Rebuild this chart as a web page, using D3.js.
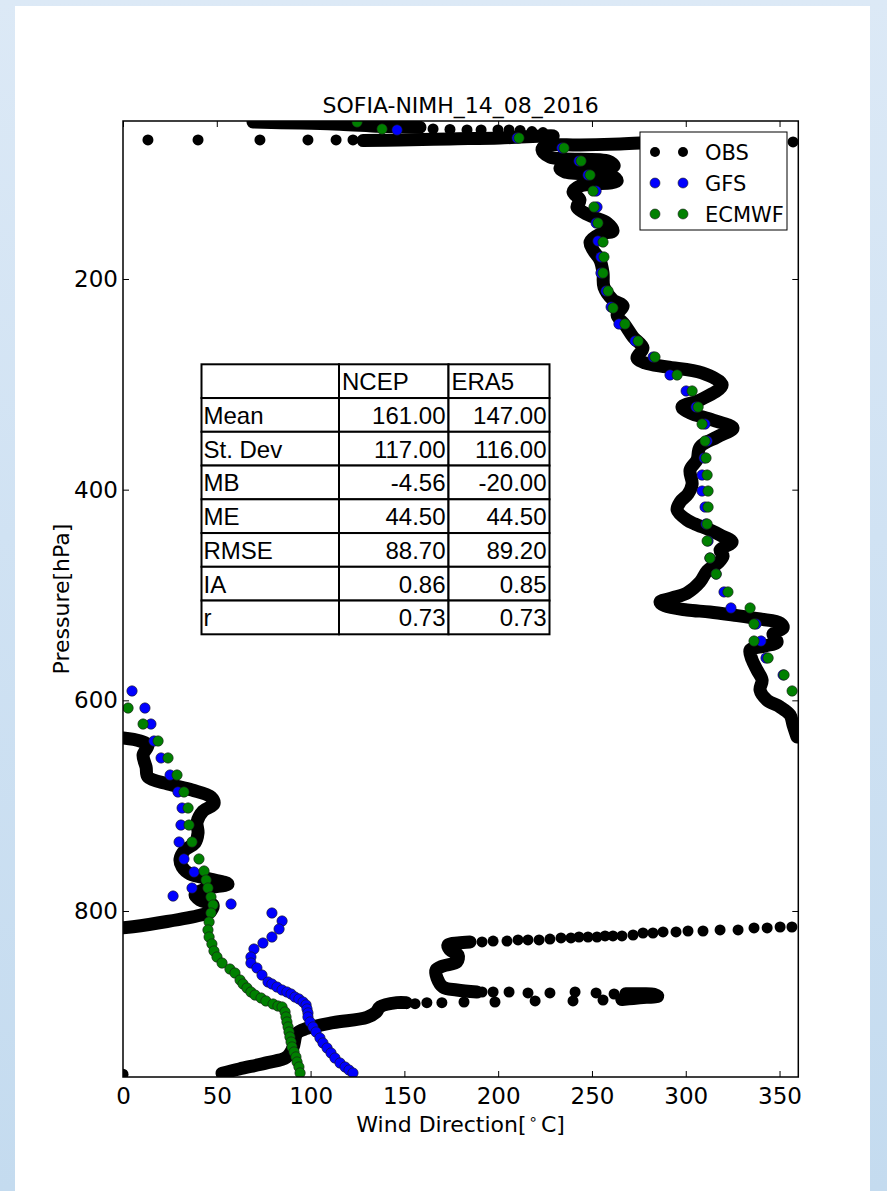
<!DOCTYPE html>
<html>
<head>
<meta charset="utf-8">
<script src="https://cdn.jsdelivr.net/npm/d3@7"></script>
<style>
html, body { margin: 0; padding: 0; }
body { width: 887px; height: 1191px; position: relative; overflow: hidden;
  background: linear-gradient(180deg, #dce9f6 0%, #d0e2f3 45%, #c4dbef 100%); }
#panel { position: absolute; left: 15px; top: 6px; width: 855px; height: 1185px; background: #fff; }
svg { position: absolute; left: 0; top: 0; }
text { font-family: "DejaVu Sans", sans-serif; fill: #000; }
</style>
</head>
<body>
<div id="panel"></div>
<svg id="chart" width="887" height="1191"></svg>
<script>
//titulos y ejes
var chartTitle = "SOFIA-NIMH_14_08_2016";
var xTicks = [0, 50, 100, 150, 200, 250, 300, 350];
var yTicks = [200, 400, 600, 800];
var seriesNames = ["OBS", "GFS", "ECMWF"];

//tabla de estadisticos
var tableCols = ["NCEP", "ERA5"];
var tableRows = ["Mean", "St. Dev", "MB", "ME", "RMSE", "IA", "r"];
var ncepStats = ["161.00", "117.00", "-4.56", "44.50", "88.70", "0.86", "0.73"];
var era5Stats = ["147.00", "116.00", "-20.00", "44.50", "89.20", "0.85", "0.73"];

//radiosondeo: tramos densos [direccion, presion]
var obsTraces = [
  [[52.8,954],[62,950],[77,944],[87,939],[90.6,930],[92.8,916],[98,911.5],[112,906],[130,901],[135,896],[137,891],[146,887],[151,887]],
  [[266,884],[272,883],[279,882],[285,881],[283,879],[276,878.5],[268,878.5]],
  [[188.7,876.9],[178,875],[170.6,872.2],[167.4,863.6],[166.9,856],[170.6,852.2],[178,848.4],[178.6,841.8],[174.3,837],[173.3,832.3],[178.6,830.4],[185,829.4]],
  [[0,816],[5.3,815],[23.5,810],[41,804],[46.4,801],[48,794.3],[41,789.6],[38.4,784.8],[43.7,779.1],[56,774.4],[46.4,769.6],[35.7,764.9],[31.5,758.2],[30.4,750.6],[33,742.1],[38.4,735.4],[40,725.9],[39.5,715.5],[42.7,705.1],[48.5,698.4],[46.9,691.8],[36.8,685.1],[24,679.4],[13.3,672.8],[12.3,663.3],[10.7,651.9],[13.3,642.4],[9.1,638.6],[0,635.8]],
  [[359.3,634.8],[357.2,623.4],[355.6,613.9],[350.3,606.3],[343.3,599.7],[339.6,590.2],[340.7,580.7],[338,571.2],[335.4,561.7],[334.3,552.2],[342.3,548.4],[348.7,544.6],[346.5,537],[351.9,531.3],[350.3,526.6],[339.6,522.8],[325.2,519],[312.9,516.1],[300.7,514.2],[289,510.4],[286.3,506.6],[292.7,502.8],[300.7,498.1],[307.6,487.7],[311.4,477.2],[317.2,469.6],[319.9,463],[318.3,457.3],[324.7,449.7],[318.3,443],[312.9,438.3],[304.9,432.6],[300.7,428.8],[295.4,419.3],[297,411.7],[301.2,404.1],[303.4,394.6],[302.3,381.3],[306,371.8],[307.6,359.5],[316.7,350],[325.2,341.5],[314.5,333.9],[302.3,327.2],[298,321.5],[307.6,314.9],[319.4,300.6],[308.7,289.2],[290,283.5],[278.3,279.7],[274,275],[277.2,265.5],[271.9,255.1],[267.6,243.7],[263.4,234.2],[266.6,225.6],[261.2,219.9],[256.4,207.6],[255.9,194.3],[254.3,182],[250.6,172.5],[249,164.9],[254.3,157.3],[261.2,154.4],[258,146.8],[250.6,141.1],[245.2,136.4],[242,131.6],[243.6,125],[239.9,117.4],[243.6,111.7],[263.4,107],[260.7,102.2],[235.6,98.4],[233,94.6],[261.8,92.7],[258.6,88],[227.6,84.2],[223.4,77.5],[225,73.7],[243.6,72.8],[265,71.8],[275.6,70.9]],
  [[128,68.5],[147.7,68],[174.3,67],[201,66.1],[229.3,64.2],[226,65.5]],
  [[158.3,56],[137,55],[115.7,53],[94.4,52],[69.3,51]]
];

//radiosondeo: puntos sueltos
var obsDots = [
  [0,955],
  [155.7,888],[162,887],[170,887],[181.8,886.4],[198.3,886.4],[219.7,885.4],[239.9,885.4],[255.9,884.5],[265.5,884.5],
  [261.8,878.8],[252.2,877.8],[241,876.9],[227.6,877.8],[215.9,877.8],[205.8,876.9],[197.3,876.9],[191.4,876.9],
  [191.4,829.4],[197.3,828.5],[204.7,828.5],[210.6,827.5],[215.9,827.5],[221.8,827.5],[227.6,826.6],[233.5,825.6],[238.8,825.6],[243.1,824.7],[247.9,824.7],[252.7,824.7],[257,823.7],[261.2,823.7],[266,823.7],[271.9,822.8],[277.2,820.9],[282.5,820.9],[287.9,819.9],[294.8,819.9],[301.2,819],[309.2,819],[318.3,818],[327.9,818],[336.4,816.1],[343.4,816.1],[350.3,815.2],[356.6,815.2],
  [290,70.5],[305,70.3],[320,70],[335,69.9],[357.2,69.9],
  [13.3,68],[40,68],[73,68],[98.6,68],[113.6,68],[122.6,68],
  [223.9,61],[218,60],[211.7,59],[205.8,58.5],[199.9,58.5],[190.9,58.5],[183.4,58.5],[174.3,58],[165.3,57.5]
];

//modelo GFS
var gfsData = [
  [146.1,58.5],[210.1,66.1],[234,75.6],[243.1,88],[247.9,101.3],[252.2,116.5],[252.7,131.6],[252.2,146.8],[253.2,163.9],[254.8,179.1],[254.8,194.3],[257.5,211.4],[260.2,226.6],[264.4,242.7],[273,258.9],[282.6,274.1],[291.6,291.1],[300.2,306.3],[305.5,321.5],[310.3,337.7],[311.4,353.8],[309.8,369.9],[308.7,386.1],[308.7,401.3],[310.3,416.5],[310.8,432.6],[311.9,448.7],[312.9,464.9],[316.2,480.1],[320.4,497.1],[324.1,512.3],[337.5,527.5],[340.1,543.7],[342.8,559.8],[351.9,575.9],
  [4.8,591.1],[11.7,607.3],[14.9,622.5],[16.5,638.6],[20.3,654.7],[25.1,670.9],[29.3,687],[31.5,702.2],[30.9,718.4],[29.9,734.5],[32.5,750.6],[37.9,763],[36.8,778.2],[26.7,785.8],[57.6,793.4],[79.4,801.9],[84.8,809.5],[83.2,817.1],[79.4,824.7],[74.6,830.4],[69.8,836.1],[68.2,843.7],[68.2,849.4],[71.4,854.1],[74.1,860.8],
  [77.3,867.4],[79.4,869.3],[82.1,872.2],[84.8,875],[87.4,876.9],[89.6,878.8],[91.7,881.7],[93.8,883.5],[96,886.4],[97.6,889.2],[98.1,893],[98.6,896.8],[98.6,900.6],[99.7,905.4],[101.3,910.1],[102.9,914.9],[105,920.6],[106.6,925.3],[108.8,930.1],[110.9,934.8],[113,939.6],[115.7,944.3],[118.4,948.1],[120.5,951],[122.6,953.8]
];

//modelo ECMWF
var ecmwfData = [
  [124.8,51],[138.1,57.6],[211.1,66.1],[235.1,75.6],[244.2,88],[249,101.3],[250.6,116.5],[251.1,131.6],[253.2,146.8],[255.9,164.9],[256.4,179.1],[255.9,194.3],[258.6,211.4],[261.2,227.5],[267.6,242.7],[274.6,258.9],[283.6,274.1],[295.4,291.1],[303.4,306.3],[306.6,321.5],[308.7,337.7],[310.3,353.8],[310.8,369.9],[311.4,386.1],[311.9,401.3],[311.9,416.5],[311.4,432.6],[311.4,448.7],[312.9,464.9],[316.2,480.1],[322.5,497.1],[334.3,512.3],[336.4,527.5],[336.4,543.7],[343.9,559.8],[352.4,575.9],[356.7,591.1],
  [2.7,607.3],[10.7,622.5],[18.7,638.6],[24,654.7],[28.8,670.9],[32.5,687],[34.7,702.2],[35.2,718.4],[36.8,734.5],[40.5,750.6],[43.2,762],[44.3,770.6],[45.3,778.2],[46.9,786.7],[48,794.3],[46.9,801.9],[45.9,810.4],[45.3,818],[45.9,824.7],[47.4,831.3],[48.5,838],[50.1,843.7],[52.8,849.4],[57,855.1],[59.7,858.9],
  [62.4,865.5],[64,869.3],[66.1,873.1],[68.2,876.9],[70.4,879.8],[73.6,882.6],[76.2,885.4],[80,888.3],[82.6,890.2],[84.8,891.1],[86.4,895.9],[86.9,900.6],[87.4,905.4],[88,910.1],[88.5,914.9],[89,919.6],[89.6,924.4],[90.1,929.1],[91.2,933.9],[92.2,938.6],[92.8,943.4],[93.8,948.1],[94.4,953.8]
];

var svg = d3.select("#chart");
var plotL = 123, plotR = 798.3, plotT = 121, plotB = 1077;

var x = d3.scaleLinear().domain([0, 360]).range([plotL, plotR]);
var y = d3.scaleLinear().domain([50, 957.6]).range([plotT, plotB]);

svg.append("clipPath").attr("id", "plotClip")
  .append("rect").attr("x", plotL).attr("y", plotT)
  .attr("width", plotR - plotL).attr("height", plotB - plotT);

var plot = svg.append("g").attr("clip-path", "url(#plotClip)");

//observaciones
var line = d3.line().curve(d3.curveCatmullRom.alpha(0.5))
  .x(function(d) { return x(d[0]); }).y(function(d) { return y(d[1]); });
plot.selectAll("path.obs").data(obsTraces).enter()
  .append("path").attr("class", "obs")
  .attr("d", line)
  .attr("fill", "none").attr("stroke", "#000")
  .attr("stroke-width", 13).attr("stroke-linejoin", "round").attr("stroke-linecap", "round");

var allObs = obsDots.concat(d3.merge(obsTraces));
plot.selectAll("circle.obs").data(allObs).enter()
  .append("circle").attr("class", "obs")
  .attr("cx", function(d) { return x(d[0]); })
  .attr("cy", function(d) { return y(d[1]); })
  .attr("r", 5.5).attr("fill", "#000");

function drawModel(data, color, cls) {
  plot.selectAll("circle." + cls).data(data).enter()
    .append("circle").attr("class", cls)
    .attr("cx", function(d) { return x(d[0]); })
    .attr("cy", function(d) { return y(d[1]); })
    .attr("r", 5.2).attr("fill", color)
    .attr("stroke", "#1a1a1a").attr("stroke-width", 0.6);
}
drawModel(gfsData, "#0000ff", "gfs");
drawModel(ecmwfData, "#008000", "ecmwf");

//ejes
var xAxis = svg.append("g").attr("transform", "translate(0," + plotB + ")")
  .call(d3.axisBottom(x).tickValues(xTicks).tickSizeInner(-6).tickSizeOuter(0).tickPadding(11));
var xAxisTop = svg.append("g").attr("transform", "translate(0," + plotT + ")")
  .call(d3.axisTop(x).tickValues(xTicks).tickSizeInner(-6).tickSizeOuter(0).tickFormat(""));
var yAxis = svg.append("g").attr("transform", "translate(" + plotL + ",0)")
  .call(d3.axisLeft(y).tickValues(yTicks).tickSizeInner(-6).tickSizeOuter(0).tickPadding(5));
var yAxisRight = svg.append("g").attr("transform", "translate(" + plotR + ",0)")
  .call(d3.axisRight(y).tickValues(yTicks).tickSizeInner(-6).tickSizeOuter(0).tickFormat(""));

[xAxis, xAxisTop, yAxis, yAxisRight].forEach(function(a) {
  a.select(".domain").remove();
  a.selectAll("line").attr("stroke", "#000").attr("stroke-width", 1);
  a.selectAll("text").style("font-family", "DejaVu Sans").style("font-size", "23px").attr("fill", "#000");
});

svg.append("rect").attr("x", plotL).attr("y", plotT)
  .attr("width", plotR - plotL).attr("height", plotB - plotT)
  .attr("fill", "none").attr("stroke", "#000").attr("stroke-width", 1.5);

//titulo y etiquetas
svg.append("text").attr("x", (plotL + plotR) / 2).attr("y", 113)
  .attr("text-anchor", "middle").style("font-size", "22px").text(chartTitle);

var xl = svg.append("text").attr("x", (plotL + plotR) / 2).attr("y", 1132)
  .attr("text-anchor", "middle").style("font-size", "22px");
xl.append("tspan").text("Wind Direction[");
xl.append("tspan").attr("dy", -8).attr("dx", 2).style("font-size", "15px").text("\u2218");
xl.append("tspan").attr("dy", 8).attr("dx", 3).text("C]");

svg.append("text").attr("transform", "translate(69," + ((plotT + plotB) / 2) + ") rotate(-90)")
  .attr("text-anchor", "middle").style("font-size", "22px").text("Pressure[hPa]");

//leyenda
var legend = svg.append("g");
legend.append("rect").attr("x", 640).attr("y", 132).attr("width", 147).attr("height", 98)
  .attr("fill", "#fff").attr("stroke", "#000").attr("stroke-width", 1);
var legendColors = ["#000", "#0000ff", "#008000"];
seriesNames.forEach(function(name, i) {
  var ly = 152 + i * 31;
  [655, 683].forEach(function(lx) {
    legend.append("circle").attr("cx", lx).attr("cy", ly).attr("r", 5)
      .attr("fill", legendColors[i])
      .attr("stroke", i == 0 ? "none" : "#1a1a1a").attr("stroke-width", 0.6);
  });
  legend.append("text").attr("x", 705).attr("y", ly).attr("dy", "0.36em")
    .style("font-size", "21px").text(name);
});

//tabla
var tbl = svg.append("g");
var colX = [201.5, 339, 448.5, 549.5];
var rowH = 33.75, tblTop = 364.3;
var nRows = tableRows.length + 1;
for (var r = 0; r < nRows; r++) {
  for (var c = 0; c < 3; c++) {
    tbl.append("rect").attr("x", colX[c]).attr("y", tblTop + r * rowH)
      .attr("width", colX[c + 1] - colX[c]).attr("height", rowH)
      .attr("fill", "#fff").attr("stroke", "#000").attr("stroke-width", 2);
  }
}
function cellText(txt, xx, r, anchor) {
  tbl.append("text").attr("x", xx).attr("y", tblTop + (r + 1) * rowH - 8)
    .attr("text-anchor", anchor)
    .style("font-family", "Liberation Sans").style("font-size", "24px").text(txt);
}
tableCols.forEach(function(c, i) { cellText(c, colX[i + 1] + 3, 0, "start"); });
tableRows.forEach(function(name, i) {
  cellText(name, colX[0] + 2, i + 1, "start");
  cellText(ncepStats[i], colX[2] - 3, i + 1, "end");
  cellText(era5Stats[i], colX[3] - 3, i + 1, "end");
});
</script>
</body>
</html>
